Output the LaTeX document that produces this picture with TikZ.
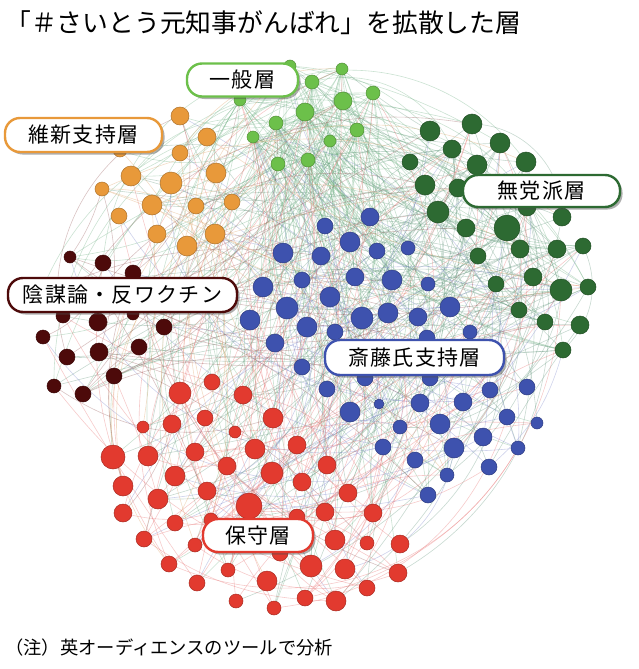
\documentclass[tikz,border=0pt]{standalone}
\usepackage{fontspec}
\setmainfont{Noto Sans CJK JP}
\usetikzlibrary{shadows}
\definecolor{cLG}{HTML}{6CC04A}
\definecolor{cOR}{HTML}{E8993A}
\definecolor{cBR}{HTML}{4D0A0A}
\definecolor{cDG}{HTML}{2D6A32}
\definecolor{cBL}{HTML}{3E52AE}
\definecolor{cRD}{HTML}{E23A2F}
\definecolor{eLG}{RGB}{110,175,130}
\definecolor{eDG}{RGB}{100,150,125}
\definecolor{eBL}{RGB}{120,130,200}
\definecolor{eRD}{RGB}{230,110,110}
\definecolor{eOR}{RGB}{220,160,100}
\definecolor{eBR}{RGB}{150,90,90}
\def\LG{290/66/6,312/82/7,342/69/6,343/101/9,373/93/7,305/112/9,276/123/7,253/137/6,357/130/7,330/141/6,278/164/7,308/160/7,240/100/6}
\def\OR{180/116/9,207/137/9,180/153/8,131/176/10,171/183/11,216/173/10,102/189/7,152/205/10,196/206/8,232/202/8,119/216/8,157/234/9,215/234/10,187/246/10,120/150/7}
\def\BR{70/257/6,103/263/8,133/273/8,63/316/7,98/322/9,133/314/6,164/327/8,43/337/7,67/357/8,99/352/9,139/347/8,114/376/8,54/386/7,83/394/8,40/295/6,100/290/8}
\def\BL{370/217/9,325/226/8,350/242/10,377/251/8,408/248/7,283/253/10,321/256/9,263/287/10,302/280/8,355/277/9,392/280/10,428/284/7,287/308/11,330/297/10,250/320/10,307/327/10,362/318/11,388/313/10,418/317/9,450/307/10,275/343/9,335/332/8,427/338/8,470/332/7,302/367/8,365/378/8,430/378/8,327/389/8,490/390/8,527/387/8,379/404/5,420/403/9,463/402/9,350/412/10,507/417/8,537/423/6,400/427/7,440/424/10,483/437/9,383/447/8,454/448/10,518/448/7,415/460/8,489/467/8,447/475/7,428/495/8}
\def\DG{430/131/10,472/124/10,452/149/9,500/143/10,410/162/8,477/165/10,526/162/10,425/185/10,458/188/9,438/212/11,466/228/9,507/228/13,527/207/9,562/217/9,478/256/8,520/249/9,557/249/9,583/246/8,496/284/8,533/277/9,561/290/11,588/287/8,519/310/8,545/322/8,580/325/9,563/350/8}
\def\RD{180/393/11,212/382/8,243/395/9,273/418/10,205/418/8,172/424/9,143/427/6,235/432/6,113/457/12,148/456/10,195/452/9,255/449/10,297/445/9,227/466/9,272/473/11,327/465/9,175/476/10,302/482/9,123/486/10,207/491/9,158/499/10,249/506/13,348/493/9,123/513/9,175/523/8,325/512/9,373/513/9,297/517/8,211/520/7,144/539/8,195/545/7,335/540/10,367/543/7,400/544/9,280/553/8,169/564/8,228/570/7,311/566/11,345/569/10,398/573/9,197/583/8,267/581/10,367/588/8,236/601/7,305/598/8,336/601/10,274/608/7}
\newcommand\mkedges[3]{%
  \foreach \k in {1,...,#2}{%
    \pgfmathrandominteger{\ea}{1}{\csname n#1\endcsname}%
    \pgfmathrandomitem{\tc}{tgt}%
    \pgfmathrandominteger{\eb}{1}{\csname n\tc\endcsname}%
    \pgfmathrandominteger{\eg}{-45}{45}%
    \draw[edge=#3] (#1\ea) to[bend left=\eg] (\tc\eb);
  }}
\begin{document}
\begin{tikzpicture}[x=1pt,y=-1pt,
  edge/.style={draw=#1, opacity=0.36, line width=0.6pt},
  dotst/.style={fill=#1, draw=#1!75!black, line width=0.5pt},
  tag/.style={draw=#1, line width=2.4pt, fill=white, rounded corners=15pt,
    inner sep=0pt, font=\fontsize{21}{24}\selectfont\addfontfeature{LetterSpace=6},
    drop shadow={shadow xshift=2.5pt, shadow yshift=-2.5pt, fill=black!70, opacity=0.45}}]
\useasboundingbox (0,0) rectangle (638,669);
% coordinates of the dots
\foreach \x/\y/\r [count=\i] in \LG {\coordinate (lg\i) at (\x,\y); \xdef\nlg{\i}}
\foreach \x/\y/\r [count=\i] in \OR {\coordinate (or\i) at (\x,\y); \xdef\nor{\i}}
\foreach \x/\y/\r [count=\i] in \BR {\coordinate (br\i) at (\x,\y); \xdef\nbr{\i}}
\foreach \x/\y/\r [count=\i] in \BL {\coordinate (bl\i) at (\x,\y); \xdef\nbl{\i}}
\foreach \x/\y/\r [count=\i] in \DG {\coordinate (dg\i) at (\x,\y); \xdef\ndg{\i}}
\foreach \x/\y/\r [count=\i] in \RD {\coordinate (rd\i) at (\x,\y); \xdef\nrd{\i}}
% edges
\pgfmathsetseed{11}
\pgfmathdeclarerandomlist{tgt}{{lg}{or}{br}{bl}{bl}{bl}{dg}{dg}{rd}{rd}{rd}{dg}}
\mkedges{lg}{200}{eLG}
\mkedges{dg}{140}{eDG}
\mkedges{bl}{80}{eBL}
\mkedges{rd}{100}{eRD}
\mkedges{or}{30}{eOR}
\mkedges{br}{35}{eBR}
% dots
\foreach \x/\y/\r [count=\i] in \LG {\path[dotst=cLG] (lg\i) circle[radius=\r pt];}
\foreach \x/\y/\r [count=\i] in \OR {\path[dotst=cOR] (or\i) circle[radius=\r pt];}
\foreach \x/\y/\r [count=\i] in \BR {\path[dotst=cBR] (br\i) circle[radius=\r pt];}
\foreach \x/\y/\r [count=\i] in \BL {\path[dotst=cBL] (bl\i) circle[radius=\r pt];}
\foreach \x/\y/\r [count=\i] in \DG {\path[dotst=cDG] (dg\i) circle[radius=\r pt];}
\foreach \x/\y/\r [count=\i] in \RD {\path[dotst=cRD] (rd\i) circle[radius=\r pt];}
% labels
\node[tag=cLG, minimum width=111pt, minimum height=33pt] (tLG) at (242.5,80) {一般層};
\node[tag=cOR, minimum width=157pt, minimum height=34pt] (tOR) at (83.5,135) {維新支持層};
\node[tag=cDG, minimum width=157pt, minimum height=32pt] (tDG) at (541.5,191) {無党派層};
\node[tag=cBR, minimum width=229pt, minimum height=34pt] (tBR) at (122.5,295) {陰謀論・反ワクチン};
\node[tag=cBL, minimum width=179pt, minimum height=35pt] (tBL) at (414.5,357.5) {斎藤氏支持層};
\node[tag=cRD, minimum width=110pt, minimum height=33pt] (tRD) at (258,535.5) {保守層};
% title and note
\node[anchor=west, inner sep=0pt, font=\fontsize{25.8}{30}\selectfont] (title) at (5,23) {「＃さいとう元知事がんばれ」を拡散した層};
\node[anchor=west, inner sep=0pt, font=\fontsize{18.3}{21}\selectfont] (note) at (5,648) {（注）英オーディエンスのツールで分析};
\end{tikzpicture}
\end{document}
